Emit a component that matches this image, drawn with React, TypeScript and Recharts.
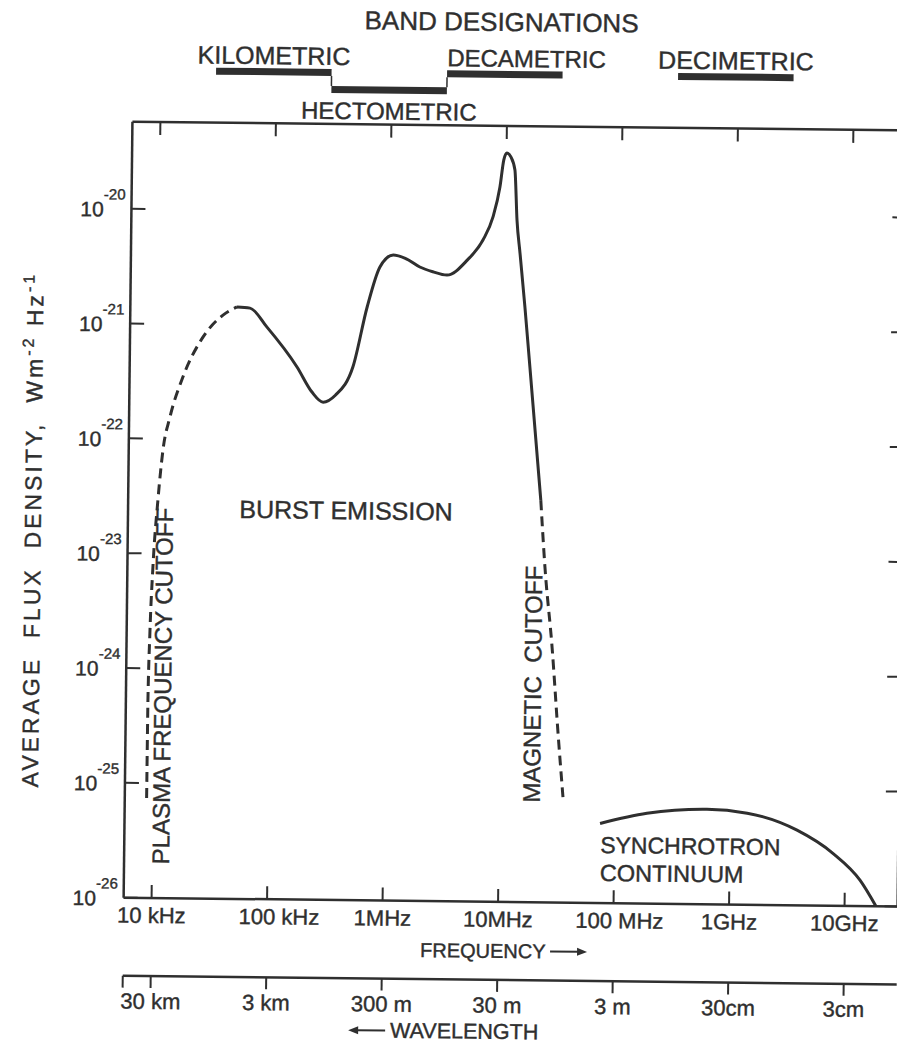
import React from 'react';
import { LineChart, Line, XAxis, YAxis, ReferenceArea, ReferenceLine } from 'recharts';

// ---------- data ----------
// frequency decades (Hz) used as tick positions on every horizontal axis
const FREQ_TICKS = [1e4, 1e5, 1e6, 1e7, 1e8, 1e9, 1e10];
const FREQ_LABELS = ['10 kHz', '100 kHz', '1MHz', '10MHz', '100 MHz', '1GHz', '10GHz'];
const WAVE_LABELS = ['30 km', '3 km', '300 m', '30 m', '3 m', '30cm', '3cm'];
const FLUX_TICKS = [1e-26, 1e-25, 1e-24, 1e-23, 1e-22, 1e-21, 1e-20];

// f in Hz, s in W m^-2 Hz^-1
const plasmaCutoff = [
  { f: 8.855e3, s: 7.4e-26 },
  { f: 8.89e3, s: 5.27e-25 },
  { f: 9.106e3, s: 2.02e-24 },
  { f: 9.53e3, s: 7.62e-24 },
  { f: 1.037e4, s: 2.92e-23 },
  { f: 1.134e4, s: 7.98e-23 },
  { f: 1.293e4, s: 1.545e-22 },
  { f: 1.659e4, s: 3.46e-22 },
  { f: 2.453e4, s: 7.74e-22 },
  { f: 3.64e4, s: 1.21e-21 },
  { f: 4.8e4, s: 1.43e-21 },
];

const burstEmission = [
  { f: 4.8e4, s: 1.43e-21 },
  { f: 6.22e4, s: 1.4e-21 },
  { f: 8.77e4, s: 9.6e-22 },
  { f: 1.61e5, s: 4.35e-22 },
  { f: 2.18e5, s: 2.64e-22 },
  { f: 2.73e5, s: 2.16e-22 },
  { f: 3.48e5, s: 2.49e-22 },
  { f: 4.91e5, s: 4.42e-22 },
  { f: 6.43e5, s: 1.47e-21 },
  { f: 8.22e5, s: 3.29e-21 },
  { f: 1.07e6, s: 4.2e-21 },
  { f: 1.36e6, s: 3.94e-21 },
  { f: 1.82e6, s: 3.32e-21 },
  { f: 2.36e6, s: 3.03e-21 },
  { f: 3.13e6, s: 2.84e-21 },
  { f: 4.68e6, s: 3.85e-21 },
  { f: 6.37e6, s: 5.78e-21 },
  { f: 7.73e6, s: 9.18e-21 },
  { f: 8.83e6, s: 1.68e-20 },
  { f: 9.48e6, s: 2.9e-20 },
  { f: 1.007e7, s: 3.33e-20 },
  { f: 1.091e7, s: 3.08e-20 },
  { f: 1.186e7, s: 2.37e-20 },
  { f: 1.25e7, s: 8.7e-21 },
  { f: 1.337e7, s: 4.49e-21 },
  { f: 1.493e7, s: 1.52e-21 },
  { f: 1.671e7, s: 4.57e-22 },
  { f: 2.14e7, s: 3.18e-23 },
];

const magneticCutoff = [
  { f: 2.14e7, s: 3.18e-23 },
  { f: 2.36e7, s: 8.3e-24 },
  { f: 2.77e7, s: 1.67e-24 },
  { f: 3.18e7, s: 2.99e-25 },
  { f: 3.56e7, s: 8.3e-26 },
];

const synchrotron = [
  { f: 7.5e7, s: 4.93e-26 },
  { f: 1.905e8, s: 6.12e-26 },
  { f: 6.3e8, s: 6.71e-26 },
  { f: 1.406e9, s: 6.27e-26 },
  { f: 3.81e9, s: 4.51e-26 },
  { f: 7.83e9, s: 2.86e-26 },
  { f: 1.352e10, s: 1.68e-26 },
  { f: 1.87e10, s: 1.0e-26 },
];

const bands = [
  { name: 'KILOMETRIC', from: 3e4, to: 3e5, row: 'upper' },
  { name: 'HECTOMETRIC', from: 3e5, to: 3e6, row: 'lower' },
  { name: 'DECAMETRIC', from: 3e6, to: 3e7, row: 'upper' },
  { name: 'DECIMETRIC', from: 3e8, to: 3e9, row: 'upper' },
];

// ---------- layout / style ----------
const INK = '#2f2f2f';
const FONT = "'Liberation Sans', Arial, Helvetica, sans-serif";
const FREQ_DOMAIN: [number, number] = [Math.pow(10, 3.758), Math.pow(10, 10.459)];
const FLUX_DOMAIN: [number, number] = [1e-26, Math.pow(10, -19.242)];
// vertical placement of the band bars above the frame (expressed on the flux scale)
const BAND_ROWS: Record<string, [number, number]> = {
  upper: [Math.pow(10, -18.763), Math.pow(10, -18.824)],
  lower: [Math.pow(10, -18.911), Math.pow(10, -18.972)],
};
const BAND_ANCHOR: Record<string, string> = { DECAMETRIC: 'start' };
const BAND_FONT: Record<string, number> = { KILOMETRIC: 25, DECIMETRIC: 25 };
const FREQ_LABEL_SHIFT: Record<string, number> = { '100 kHz': 12, '100 MHz': 6 };

const freqIndex = (v: number) =>
  FREQ_TICKS.findIndex((t) => Math.abs(Math.log10(t) - Math.log10(v)) < 1e-6);

const textStyle = { fontFamily: FONT, fill: INK, stroke: INK, strokeWidth: 0.4 } as const;

function FreqTick(props: any) {
  const { x, y, payload } = props;
  const i = freqIndex(payload.value);
  const label = i >= 0 ? FREQ_LABELS[i] : '';
  return (
    <g>
      <line x1={x} y1={y} x2={x} y2={y - 13} stroke={INK} strokeWidth={2} />
      <text x={x + (FREQ_LABEL_SHIFT[label] || 0)} y={y + 25} textAnchor="middle" fontSize={22} {...textStyle}>
        {label}
      </text>
    </g>
  );
}

function WaveTick(props: any) {
  const { x, y, payload } = props;
  const i = freqIndex(payload.value);
  return (
    <g>
      <line x1={x} y1={y} x2={x} y2={y + 12} stroke={INK} strokeWidth={2} />
      {i >= 0 && (
        <text x={x} y={y + 33} textAnchor="middle" fontSize={22} {...textStyle}>
          {WAVE_LABELS[i]}
        </text>
      )}
    </g>
  );
}

function TopTick(props: any) {
  const { x, y } = props;
  return <line x1={x} y1={y} x2={x} y2={y + 13} stroke={INK} strokeWidth={2} />;
}

function FluxTick(props: any) {
  const { x, y, payload } = props;
  const exp = Math.round(Math.log10(payload.value));
  return (
    <g>
      <line x1={x} y1={y} x2={x + 14} y2={y} stroke={INK} strokeWidth={2} />
      <text x={x - 6} y={y + 8} textAnchor="end" fontSize={21} {...textStyle}>
        10
        <tspan dy={-17} fontSize={15}>{`-${Math.abs(exp)}`}</tspan>
      </text>
    </g>
  );
}

function RightTick(props: any) {
  const { x, y } = props;
  return <line x1={x} y1={y} x2={x - 13} y2={y} stroke={INK} strokeWidth={2} />;
}

function bandLabel(name: string, row: string) {
  return (p: any) => {
    const vb = p.viewBox || {};
    const anchor = BAND_ANCHOR[name] || 'middle';
    const x = anchor === 'start' ? vb.x : vb.x + vb.width / 2;
    const y = row === 'upper' ? vb.y - 4 : vb.y + vb.height + 26;
    return (
      <text x={x} y={y} textAnchor={anchor} fontSize={BAND_FONT[name] || 24} {...textStyle}>
        {name}
      </text>
    );
  };
}

function Annotations() {
  return (
    <svg
      width={910}
      height={1047}
      style={{ position: 'absolute', left: 0, top: 0, pointerEvents: 'none' }}
    >
      <g {...textStyle}>
        <text x={496} y={31} textAnchor="middle" fontSize={26}>BAND DESIGNATIONS</text>
        <text
          transform="translate(41,535) rotate(-90)"
          textAnchor="middle"
          fontSize={23}
          letterSpacing={3}
          style={{ whiteSpace: 'pre' }}
        >
          {'AVERAGE  FLUX  DENSITY,  Wm'}
          <tspan dy={-9} fontSize={16}>-2</tspan>
          <tspan dy={9}> Hz</tspan>
          <tspan dy={-9} fontSize={16}>-1</tspan>
        </text>
        <text x={346} y={521} textAnchor="middle" fontSize={25}>BURST EMISSION</text>
        <text transform="translate(173,690) rotate(-90)" textAnchor="middle" fontSize={24} style={{ whiteSpace: 'pre' }}>
          PLASMA FREQUENCY CUTOFF
        </text>
        <text transform="translate(543,684) rotate(-90)" textAnchor="middle" fontSize={24} style={{ whiteSpace: 'pre' }}>
          {'MAGNETIC  CUTOFF'}
        </text>
        <text x={604} y={852} fontSize={23}>SYNCHROTRON</text>
        <text x={604} y={880} fontSize={23.5}>CONTINUUM</text>
        <text x={425} y={958} fontSize={20}>FREQUENCY</text>
        <text x={396} y={1039} fontSize={21.5}>WAVELENGTH</text>
      </g>
      <g stroke={INK} strokeWidth={2} fill={INK}>
        <line x1={555} y1={951} x2={584} y2={951} />
        <path d="M592 951 L582 947 L582 955 Z" stroke="none" />
        <line x1={362} y1={1032} x2={391} y2={1032} />
        <path d="M354 1032 L364 1028 L364 1036 Z" stroke="none" />
      </g>
    </svg>
  );
}

export default function App() {
  return (
    <div
      style={{
        position: 'absolute',
        left: 0,
        top: 0,
        width: 897,
        height: 1047,
        overflow: 'hidden',
        background: '#ffffff',
      }}
    >
      <div
        style={{
          position: 'absolute',
          left: 0,
          top: 0,
          width: 910,
          height: 1047,
          transform: 'rotate(0.65deg)',
          transformOrigin: '510px 515px',
        }}
      >
        <LineChart width={910} height={1047} margin={{ top: 124, right: 0, bottom: 0, left: 0 }}>
          <XAxis
            xAxisId="f"
            dataKey="f"
            type="number"
            scale="log"
            domain={FREQ_DOMAIN}
            allowDataOverflow
            ticks={FREQ_TICKS}
            interval={0}
            height={78}
            tickLine={false}
            tickSize={0}
            tickMargin={0}
            tick={FreqTick}
            axisLine={{ stroke: INK, strokeWidth: 2.5 }}
          />
          <XAxis
            xAxisId="w"
            dataKey="f"
            type="number"
            scale="log"
            domain={FREQ_DOMAIN}
            allowDataOverflow
            ticks={[FREQ_DOMAIN[0], ...FREQ_TICKS]}
            interval={0}
            height={67}
            tickLine={false}
            tickSize={0}
            tickMargin={0}
            tick={WaveTick}
            axisLine={{ stroke: INK, strokeWidth: 2.5 }}
          />
          <XAxis
            xAxisId="top"
            orientation="top"
            dataKey="f"
            type="number"
            scale="log"
            domain={FREQ_DOMAIN}
            allowDataOverflow
            ticks={FREQ_TICKS}
            interval={0}
            height={2}
            tickLine={false}
            tickSize={0}
            tickMargin={0}
            tick={TopTick}
            axisLine={{ stroke: INK, strokeWidth: 2.5 }}
          />
          <YAxis
            yAxisId="left"
            dataKey="s"
            type="number"
            scale="log"
            domain={FLUX_DOMAIN}
            allowDataOverflow
            ticks={FLUX_TICKS}
            interval={0}
            width={128}
            tickLine={false}
            tickSize={0}
            tickMargin={0}
            tick={FluxTick}
            axisLine={{ stroke: INK, strokeWidth: 2.5 }}
          />
          <YAxis
            yAxisId="right"
            orientation="right"
            dataKey="s"
            type="number"
            scale="log"
            domain={FLUX_DOMAIN}
            allowDataOverflow
            ticks={FLUX_TICKS}
            interval={0}
            width={8}
            tickLine={false}
            tickSize={0}
            tickMargin={0}
            tick={RightTick}
            axisLine={{ stroke: INK, strokeWidth: 2.5 }}
          />

          {bands.map((b) => (
            <ReferenceArea
              key={b.name}
              xAxisId="f"
              yAxisId="left"
              x1={b.from}
              x2={b.to}
              y1={BAND_ROWS[b.row][0]}
              y2={BAND_ROWS[b.row][1]}
              ifOverflow="visible"
              fill={INK}
              fillOpacity={1}
              stroke="none"
              label={bandLabel(b.name, b.row)}
            />
          ))}
          {[3e5, 3e6].map((fx) => (
            <ReferenceLine
              key={fx}
              xAxisId="f"
              yAxisId="left"
              ifOverflow="visible"
              segment={[
                { x: fx, y: BAND_ROWS.upper[1] },
                { x: fx, y: BAND_ROWS.lower[0] },
              ]}
              stroke={INK}
              strokeWidth={1.5}
            />
          ))}

          <Line
            xAxisId="f"
            yAxisId="left"
            data={plasmaCutoff}
            dataKey="s"
            type="monotone"
            stroke={INK}
            strokeWidth={3}
            strokeDasharray="10 6"
            dot={false}
            isAnimationActive={false}
          />
          <Line
            xAxisId="f"
            yAxisId="left"
            data={burstEmission}
            dataKey="s"
            type="monotone"
            stroke={INK}
            strokeWidth={3}
            dot={false}
            isAnimationActive={false}
          />
          <Line
            xAxisId="f"
            yAxisId="left"
            data={magneticCutoff}
            dataKey="s"
            type="monotone"
            stroke={INK}
            strokeWidth={3}
            strokeDasharray="10 6"
            dot={false}
            isAnimationActive={false}
          />
          <Line
            xAxisId="f"
            yAxisId="left"
            data={synchrotron}
            dataKey="s"
            type="monotone"
            stroke={INK}
            strokeWidth={3}
            dot={false}
            isAnimationActive={false}
          />
        </LineChart>
        <Annotations />
      </div>
    </div>
  );
}
